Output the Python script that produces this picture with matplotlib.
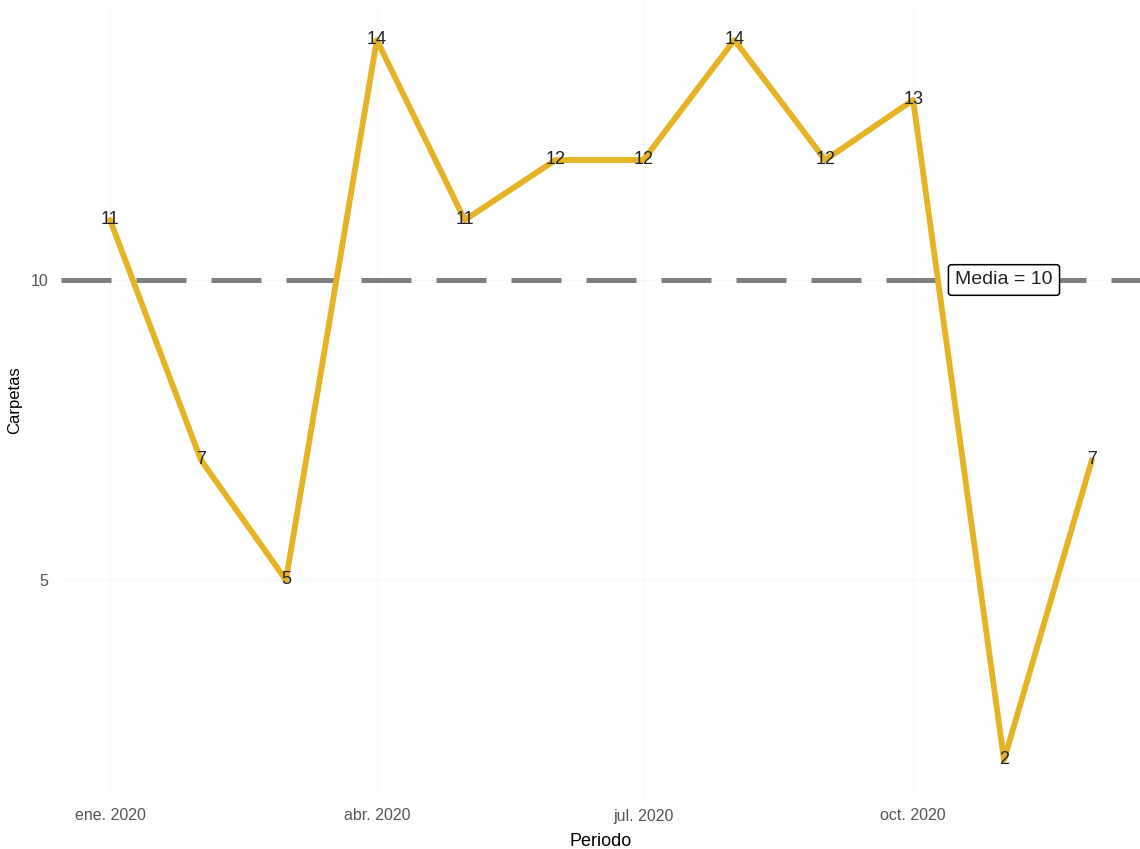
import numpy as np
import pandas as pd
import matplotlib
matplotlib.use('Agg')
import matplotlib.pyplot as plt

# data
periodo = pd.date_range('2020-01-01', periods=12, freq='MS')
carpetas = [11, 7, 5, 14, 11, 12, 12, 14, 12, 13, 2, 7]
tick_dates = pd.to_datetime(['2020-01-01', '2020-04-01', '2020-07-01', '2020-10-01'])
tick_labels = ['ene. 2020', 'abr. 2020', 'jul. 2020', 'oct. 2020']
media = np.mean(carpetas)

plt.rcParams['font.family'] = ['Liberation Sans', 'DejaVu Sans']

fig = plt.figure(figsize=(11.4, 8.49), dpi=100)
ax = fig.add_axes([61 / 1140, 1 - 796 / 849, (1141 - 61) / 1140, (796 - 4) / 849])

ax.axhline(media, color='#7f7f7f', lw=3.6, dashes=(10, 5), zorder=1)
ax.plot(periodo, carpetas, color='#E6B325', lw=4.2, zorder=2, solid_capstyle='round')
for d, v in zip(periodo, carpetas):
    ax.text(d, v, str(v), ha='center', va='center', fontsize=13, color='#222222', zorder=3)

# etiqueta de la media
ax.text(pd.Timestamp('2020-11-01'), media, 'Media = %d' % media, ha='center', va='center',
        fontsize=14, color='#222222', zorder=4,
        bbox=dict(boxstyle='round,pad=0.35,rounding_size=0.15', fc='white', ec='black', lw=1.1))

span = (periodo[-1] - periodo[0]) * 0.05
ax.set_xlim(periodo[0] - span, periodo[-1] + span)
ax.set_ylim(1.4, 14.6)
ax.set_xticks(tick_dates)
ax.set_xticklabels(tick_labels)
ax.set_yticks([5, 10])
ax.tick_params(length=0, labelsize=11.5, labelcolor='#555555')
ax.tick_params(axis='x', pad=9)
ax.tick_params(axis='y', pad=9)
ax.grid(True, color='#f7f7f7', lw=0.8)
ax.set_axisbelow(True)
for s in ax.spines.values():
    s.set_visible(False)

ax.set_xlabel('Periodo', fontsize=13, labelpad=7)
ax.set_ylabel('Carpetas', fontsize=12, labelpad=6)

fig.savefig('out.png', dpi=100)
